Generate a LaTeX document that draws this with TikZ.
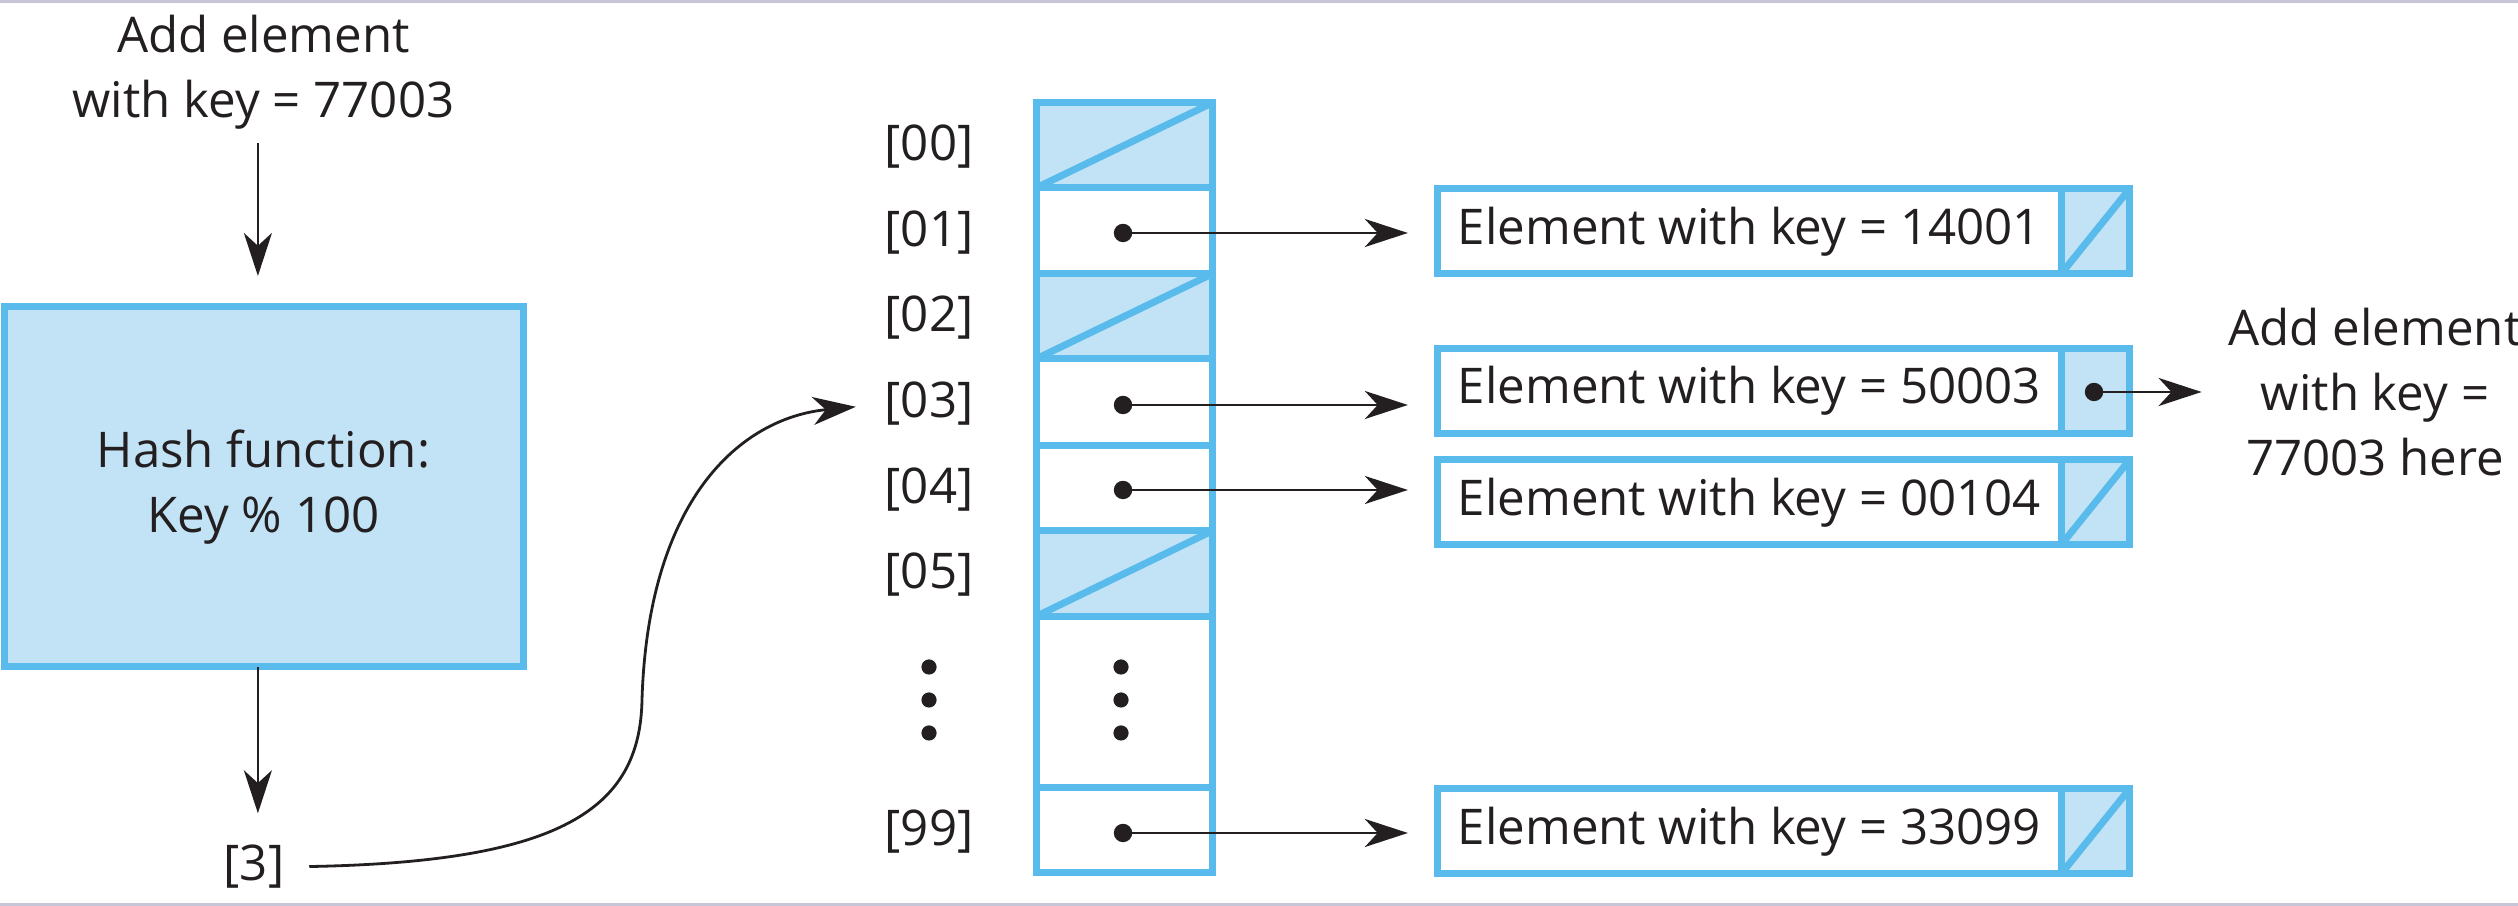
\documentclass[tikz,border=0pt]{standalone}
\usepackage{fontspec}
\setmainfont{Open Sans}
\usetikzlibrary{arrows.meta}
\definecolor{bdr}{RGB}{88,187,236}
\definecolor{lfill}{RGB}{194,227,246}
\definecolor{rulecol}{RGB}{198,198,216}
\definecolor{ink}{RGB}{35,31,32}
\begin{document}
\begin{tikzpicture}[x=0.25pt,y=-0.25pt,
  txt/.style={font=\fontsize{12.3}{16.25}\selectfont, text=ink, align=center, inner sep=0pt, outer sep=0pt},
  cell/.style={draw=bdr, line width=1.75pt, minimum width=44pt, inner sep=0pt, outer sep=0pt},
  nullcell/.style={cell, fill=lfill},
  elem/.style={txt, draw=bdr, line width=1.75pt, fill=white, minimum width=155.9pt, minimum height=21.25pt},
  ptr/.style={draw=bdr, line width=1.75pt, fill=lfill, minimum width=17.1pt, minimum height=21.25pt, inner sep=0pt, outer sep=0pt},
  slash/.style={draw=bdr, line width=1.75pt},
  bullet/.style={circle, fill=ink, minimum size=4.6pt, inner sep=0pt, outer sep=0pt},
  arr/.style={draw=ink, line width=0.7pt, -{Stealth[length=10.75pt,width=7pt,inset=3.2pt]}},
]
\useasboundingbox (0,0) rectangle (2518,906);
\fill[rulecol] (0,0) rectangle (2518,3);
\fill[rulecol] (0,903) rectangle (2518,906);

% left part
\node[txt] (add1) at (263.5,72) {Add element\\with key = 77003};
\node[txt, draw=bdr, fill=lfill, line width=1.75pt, minimum width=129.75pt, minimum height=90pt] (hash) at (263.5,487) {Hash function:\\Key \% 100};
\node[txt] (idx) at (254,867) {[3]};
\draw[arr, shorten <=3.6pt, shorten >=7.75pt] ([xshift=-1.4pt]add1.south) -- ([xshift=-1.4pt]hash.north);
\draw[arr, shorten >=8pt] ([xshift=-1.4pt]hash.south) -- ([xshift=-1.4pt]hash.south |- idx.north);

% column
\node[nullcell, minimum height=21.25pt] (c00) at (1124,145.5) {};
\node[cell, minimum height=21.5pt] (c01) at (1124,231) {};
\node[nullcell, minimum height=21.25pt] (c02) at (1124,316.5) {};
\node[cell, minimum height=21.75pt] (c03) at (1124,402.5) {};
\node[cell, minimum height=21.25pt] (c04) at (1124,488.5) {};
\node[nullcell, minimum height=21.375pt] (c05) at (1124,573.75) {};
\node[cell, minimum height=42.875pt] (cdd) at (1124,702.25) {};
\node[cell, minimum height=21.25pt] (c99) at (1124,830.5) {};
\draw[slash] (c00.south west) -- (c00.north east);
\draw[slash] (c02.south west) -- (c02.north east);
\draw[slash] (c05.south west) -- (c05.north east);

% row labels
\node[txt] (l00) at (929,147) {[00]};
\node[txt] (l01) at (929,233) {[01]};
\node[txt] (l02) at (929,318) {[02]};
\node[txt] (l03) at (929,404) {[03]};
\node[txt] (l04) at (929,490) {[04]};
\node[txt] (l05) at (929,575) {[05]};
\node[txt] (l99) at (929,832) {[99]};
\foreach \yy in {667,700,733}{
  \fill[ink] (929,\yy) circle (1.9pt);
  \fill[ink] (1121,\yy) circle (1.9pt);
}

% curve from [3] to [03]
\draw[arr, shorten <=6.25pt, shorten >=7.25pt] (idx.east) .. controls (560,862) and (640,810) .. (642,700) .. controls (648,500) and (740,418) .. (l03.west);

% elements
\node[elem] (e1) at (1749.25,231.5) {Element with key = 14001};
\node[ptr] (p1) at (2095.25,231.5) {};
\node[elem] (e2) at (1749.25,391) {Element with key = 50003};
\node[ptr] (p2) at (2095.25,391) {};
\node[elem] (e3) at (1749.25,502.5) {Element with key = 00104};
\node[ptr] (p3) at (2095.25,502.5) {};
\node[elem] (e4) at (1749.25,831.5) {Element with key = 33099};
\node[ptr] (p4) at (2095.25,831.5) {};
\draw[slash] (p1.south west) -- (p1.north east);
\draw[slash] (p3.south west) -- (p3.north east);
\draw[slash] (p4.south west) -- (p4.north east);

% bullets and pointers
\node[bullet] (d01) at (1123,233) {};
\node[bullet] (d03) at (1123,405) {};
\node[bullet] (d04) at (1123,490) {};
\node[bullet] (d99) at (1123,833) {};
\draw[arr, shorten >=7.4pt] (d01.center) -- (d01.center -| e1.west);
\draw[arr, shorten >=7.4pt] (d03.center) -- (d03.center -| e2.west);
\draw[arr, shorten >=7.4pt] (d04.center) -- (d04.center -| e3.west);
\draw[arr, shorten >=7.4pt] (d99.center) -- (d99.center -| e4.west);

\node[txt] (add2) at (2375,392) {Add element\\with key =\\77003 here};
\node[bullet] (dp) at (2094,392) {};
\draw[arr, shorten >=6.75pt] (dp.center) -- (dp.center -| add2.west);
\end{tikzpicture}
\end{document}
